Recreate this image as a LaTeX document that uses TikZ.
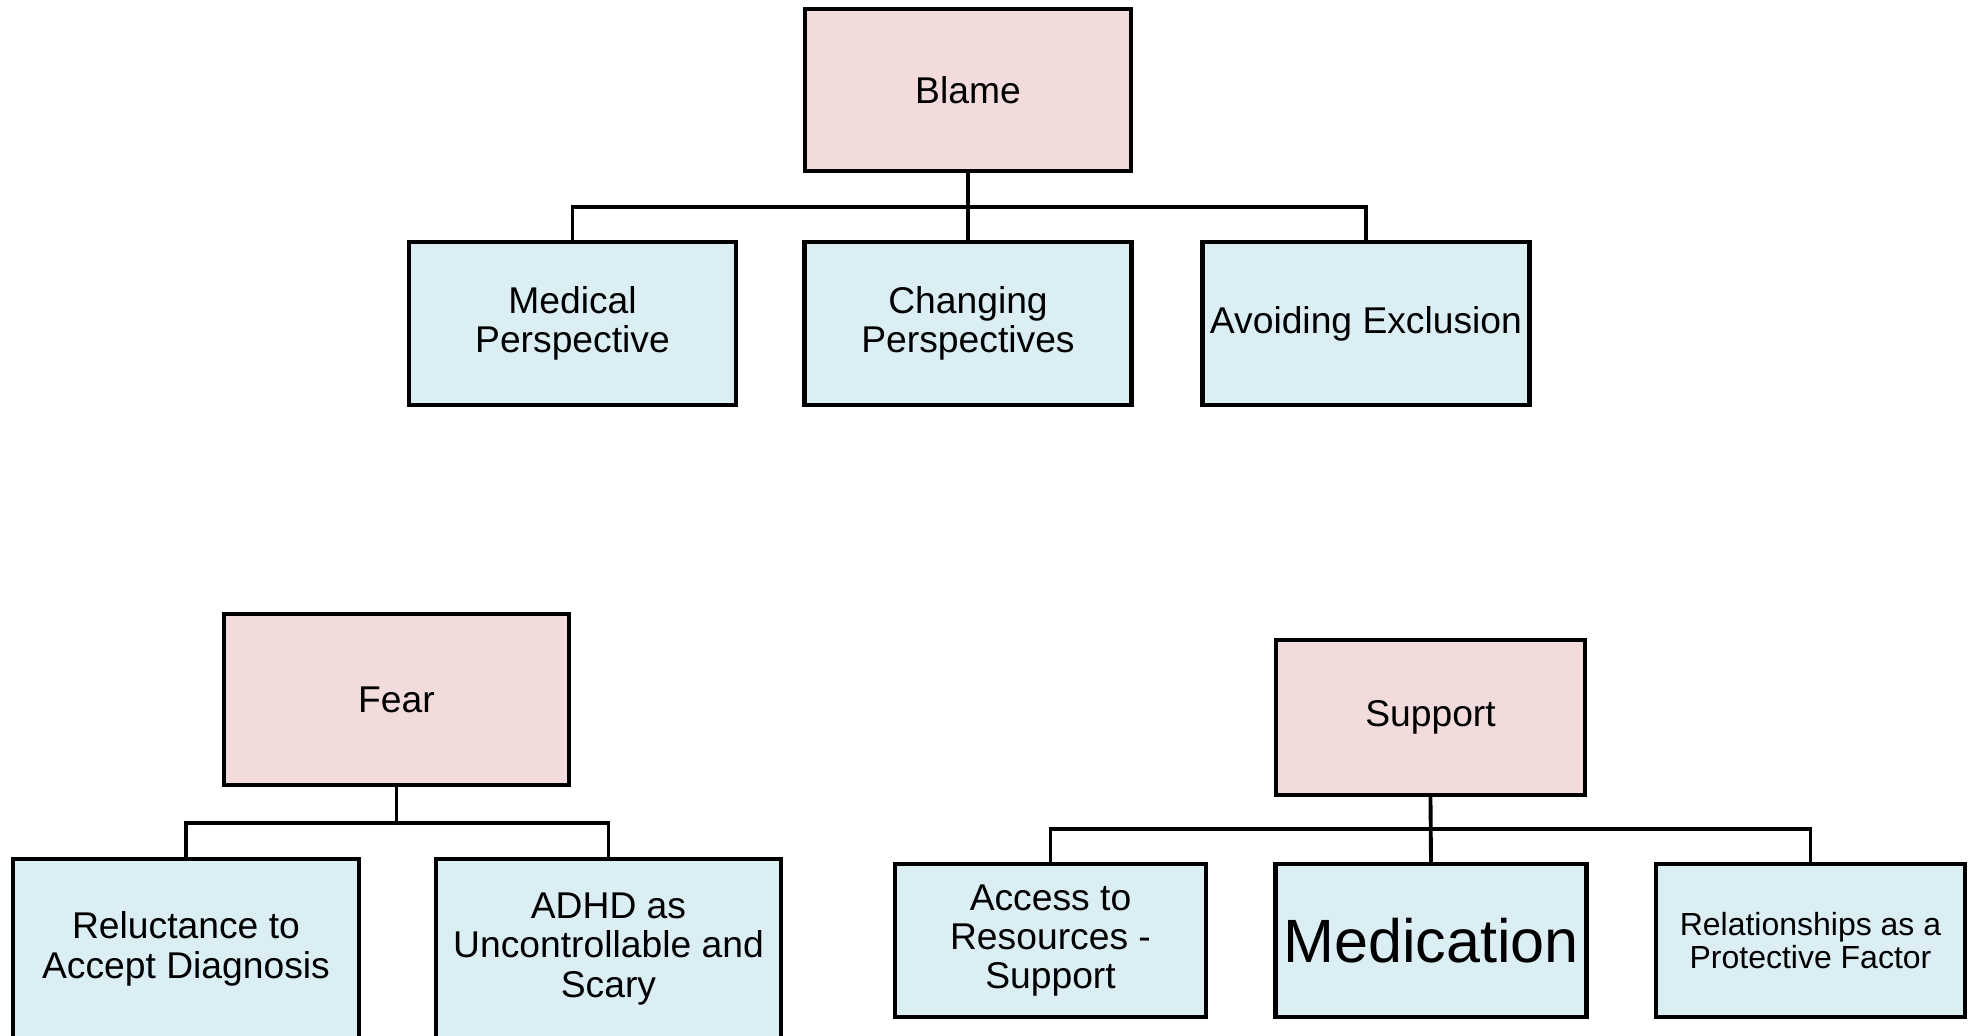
\documentclass[tikz,border=0pt]{standalone}
\usepackage{fontspec}
\setmainfont{Liberation Sans}
\usetikzlibrary{positioning,calc}

\begin{document}
\begin{tikzpicture}[
box/.style={draw=black,line width=1.25pt,align=center,inner sep=2pt,
  font=\fontsize{10.6}{11.2}\selectfont},
theme/.style={box,fill=themepink},
subtheme/.style={box,fill=subblue},
link/.style={draw=black,line width=1.1pt}]
\definecolor{themepink}{HTML}{F2DCDB}
\definecolor{subblue}{HTML}{DBEEF4}
\useasboundingbox (0,0) rectangle (19.73,-10.35);
\clip (0,0) rectangle (19.73,-10.35);
% Blame
\node[theme,minimum width=3.26cm,minimum height=1.62cm] (blame) at (9.68,-0.90) {Blame};
\node[subtheme,minimum width=3.27cm,minimum height=1.63cm] (medical) at (5.725,-3.235) {Medical\\Perspective};
\node[subtheme,minimum width=3.27cm,minimum height=1.63cm] (changing) at (9.68,-3.235) {Changing\\Perspectives};
\node[subtheme,minimum width=3.27cm,minimum height=1.63cm] (avoiding) at (13.66,-3.235) {Avoiding Exclusion};
\coordinate (busA) at (0,-2.07);
\draw[link] (medical.north) |- (blame.south |- busA) -| (avoiding.north);
\draw[link] (blame.south) -- (changing.north);
% Fear
\node[theme,minimum width=3.45cm,minimum height=1.71cm] (fear) at (3.965,-6.995) {Fear};
\node[subtheme,minimum width=3.46cm,minimum height=1.80cm] (reluct) at (1.86,-9.49) {Reluctance to\\Accept Diagnosis};
\node[subtheme,minimum width=3.45cm,minimum height=1.80cm] (adhd) at (6.085,-9.49) {ADHD as\\Uncontrollable and\\Scary};
\coordinate (busB) at (0,-8.23);
\draw[link] (reluct.north) |- (fear.south |- busB) -| (adhd.north);
\draw[link] (fear.south) -- (fear.south |- busB);
% Support
\node[theme,minimum width=3.09cm,minimum height=1.55cm] (support) at (14.305,-7.175) {Support};
\node[subtheme,minimum width=3.11cm,minimum height=1.53cm] (access) at (10.505,-9.405) {Access to\\Resources -\\Support};
\node[subtheme,minimum width=3.11cm,minimum height=1.53cm,font=\fontsize{17.4}{19}\selectfont] (medication) at (14.31,-9.405) {Medication};
\node[subtheme,minimum width=3.09cm,minimum height=1.53cm,font=\fontsize{9.1}{9.4}\selectfont] (relation) at (18.105,-9.405) {Relationships as a\\Protective Factor};
\coordinate (busC) at (0,-8.29);
\draw[link] (access.north) |- (support.south |- busC) -| (relation.north);
\draw[link] (support.south) -- (medication.north);
\end{tikzpicture}
\end{document}
